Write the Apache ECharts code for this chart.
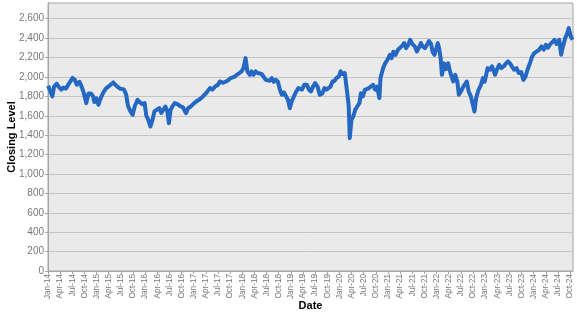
<!DOCTYPE html>
<html>
<head>
<meta charset="utf-8">
<script src="https://cdn.jsdelivr.net/npm/echarts@6/dist/echarts.min.js"></script>
<style>html,body{margin:0;padding:0;background:#fff}#c{width:577px;height:315px}</style>
</head>
<body>
<div id="c"></div>
<script>
var monthNames = ['Jan','Feb','Mar','Apr','May','Jun','Jul','Aug','Sep','Oct','Nov','Dec'];
var dates = [
'2014-01-02','2014-01-15','2014-02-03','2014-02-15','2014-03-05','2014-03-20','2014-04-10','2014-04-25','2014-05-15','2014-06-01','2014-06-20','2014-07-03','2014-07-20','2014-08-05','2014-08-25','2014-09-10','2014-09-25','2014-10-10','2014-10-15','2014-11-01','2014-11-20','2014-12-05','2014-12-15','2014-12-31',
'2015-01-15','2015-02-01','2015-02-20','2015-03-10','2015-03-25','2015-04-15','2015-05-05','2015-05-20','2015-06-05','2015-06-25','2015-07-10','2015-07-25','2015-08-10','2015-08-25','2015-09-10','2015-09-28','2015-10-15','2015-11-05','2015-11-20','2015-12-10','2015-12-28',
'2016-01-10','2016-01-25','2016-02-10','2016-02-25','2016-03-10','2016-03-25','2016-04-15','2016-05-01','2016-05-15','2016-06-01','2016-06-15','2016-06-27','2016-07-10','2016-07-25','2016-08-10','2016-09-01','2016-09-20','2016-10-10','2016-10-25','2016-11-04','2016-11-20','2016-12-10','2016-12-28',
'2017-01-20','2017-02-15','2017-03-10','2017-04-01','2017-05-01','2017-05-20','2017-06-10','2017-07-01','2017-07-15','2017-08-10','2017-09-01','2017-09-20','2017-10-05','2017-11-01','2017-11-20','2017-12-10','2017-12-28',
'2018-01-10','2018-01-26','2018-02-08','2018-02-25','2018-03-10','2018-03-25','2018-04-10','2018-04-25','2018-05-10','2018-05-25','2018-06-10','2018-06-25','2018-07-10','2018-07-25','2018-08-10','2018-08-25','2018-09-10','2018-09-25','2018-10-10','2018-10-25','2018-11-10','2018-11-25','2018-12-10','2018-12-24',
'2019-01-10','2019-01-25','2019-02-10','2019-02-25','2019-03-10','2019-03-25','2019-04-10','2019-04-30','2019-05-15','2019-05-31','2019-06-15','2019-07-01','2019-07-20','2019-08-05','2019-08-25','2019-09-10','2019-09-25','2019-10-05','2019-10-25','2019-11-10','2019-11-25','2019-12-10','2019-12-28',
'2020-01-10','2020-01-25','2020-02-10','2020-02-20','2020-02-28','2020-03-10','2020-03-18','2020-03-31','2020-04-15','2020-04-28','2020-05-15','2020-05-30','2020-06-10','2020-06-25','2020-07-10','2020-07-25','2020-08-10','2020-08-25','2020-09-10','2020-09-25','2020-10-10','2020-10-28','2020-11-05','2020-11-25','2020-12-10','2020-12-28',
'2021-01-15','2021-01-28','2021-02-10','2021-02-25','2021-03-15','2021-03-30','2021-04-15','2021-05-01','2021-05-15','2021-06-01','2021-06-15','2021-07-01','2021-07-20','2021-08-05','2021-08-20','2021-09-05','2021-09-20','2021-10-05','2021-10-20','2021-11-05','2021-11-20','2021-12-01','2021-12-15','2021-12-31',
'2022-01-10','2022-01-20','2022-02-01','2022-02-10','2022-02-25','2022-03-10','2022-03-28','2022-04-10','2022-04-25','2022-05-05','2022-05-20','2022-06-05','2022-06-16','2022-07-01','2022-07-20','2022-08-15','2022-08-30','2022-09-15','2022-09-30','2022-10-12','2022-10-25','2022-11-10','2022-11-30','2022-12-15','2022-12-28',
'2023-01-20','2023-02-05','2023-02-20','2023-03-15','2023-03-30','2023-04-15','2023-05-01','2023-05-20','2023-06-05','2023-06-20','2023-07-05','2023-07-20','2023-08-05','2023-08-25','2023-09-10','2023-09-28','2023-10-15','2023-10-30','2023-11-15','2023-12-05','2023-12-20',
'2024-01-05','2024-01-20','2024-02-10','2024-02-28','2024-03-15','2024-04-01','2024-04-15','2024-05-01','2024-05-20','2024-06-05','2024-06-20','2024-07-10','2024-07-25','2024-08-05','2024-08-25','2024-09-10','2024-09-20','2024-10-05','2024-10-20'
];
var closing = [
1910,1930,1800,1900,1930,1900,1870,1890,1880,1920,1960,1990,1970,1920,1950,1900,1840,1760,1730,1830,1830,1800,1740,1780,
1713,1780,1840,1880,1870,1920,1943,1920,1900,1880,1860,1870,1820,1700,1650,1610,1700,1764,1740,1720,1730,
1600,1558,1489,1560,1644,1660,1678,1630,1610,1695,1650,1524,1661,1700,1730,1720,1700,1690,1650,1627,1680,1696,1720,
1747,1770,1799,1830,1885,1870,1902,1920,1953,1940,1953,1970,1988,2000,2022,2040,2060,
2091,2194,2057,2022,2057,2022,2057,2040,2057,2030,2000,1970,1988,1960,1988,1950,1970,1950,1867,1816,1840,1800,1765,1678,
1760,1799,1850,1885,1900,1870,1919,1919,1870,1850,1900,1936,1900,1816,1830,1885,1870,1850,1900,1953,1960,1990,2005,
2057,2030,2040,2022,1833,1700,1369,1558,1600,1661,1700,1730,1833,1800,1867,1850,1885,1900,1919,1870,1900,1782,1988,2091,2140,2177,
2228,2194,2260,2228,2280,2297,2320,2349,2297,2330,2383,2340,2314,2263,2300,2349,2310,2297,2330,2370,2340,2260,2228,2300,
2349,2297,2194,2022,2140,2080,2140,2057,1990,1953,2022,1950,1816,1850,1900,1953,1850,1800,1713,1644,1782,1860,1919,1988,1950,
2091,2074,2110,2022,2080,2125,2091,2110,2140,2160,2140,2130,2074,2090,2040,2050,1970,2000,2074,2150,2211,
2245,2230,2280,2314,2280,2332,2300,2332,2360,2383,2340,2383,2228,2300,2400,2450,2504,2420,2383
];
var yTicks = [0,200,400,600,800,1000,1200,1400,1600,1800,2000,2200,2400,2600];

function monthIndex(s) {
  var p = s.split('-').map(Number);
  var dim = new Date(p[0], p[1], 0).getDate();
  return (p[0] - 2014) * 12 + (p[1] - 1) + (p[2] - 1) / dim;
}
var seriesData = dates.map(function (d, i) { return [monthIndex(d), closing[i]]; });

var chart = echarts.init(document.getElementById('c'), null, {renderer: 'canvas'});
chart.setOption({
  animation: false,
  backgroundColor: '#ffffff',
  grid: {left: 48, right: 4, top: 3, bottom: 44, outerBoundsMode: 'none', containLabel: false, show: true, backgroundColor: '#eaeaea', borderColor: '#a6a6a6', borderWidth: 1},
  xAxis: {
    type: 'value', min: 0, max: 129.7, interval: 3,
    name: 'Date', nameLocation: 'middle', nameGap: 29, nameMoveOverlap: false,
    nameTextStyle: {fontFamily: 'Liberation Sans', fontWeight: 'bold', fontSize: 11, color: '#000'},
    axisLine: {show: true, lineStyle: {color: '#a6a6a6'}},
    axisTick: {show: true, length: 3, lineStyle: {color: '#a6a6a6'}},
    splitLine: {show: false},
    axisLabel: {
      rotate: 90, fontFamily: 'Liberation Sans', fontSize: 8.2, color: '#777', margin: 3,
      showMaxLabel: false,
      formatter: function (v) {
        if (Math.abs(v - Math.round(v)) > 1e-6 || Math.round(v) % 3 !== 0) return '';
        var m = Math.round(v);
        return monthNames[m % 12] + '-' + String(14 + Math.floor(m / 12));
      }
    }
  },
  yAxis: {
    type: 'value', min: 0, max: 2762, interval: 200,
    name: 'Closing Level', nameLocation: 'middle', nameGap: 31, nameMoveOverlap: false,
    nameTextStyle: {fontFamily: 'Liberation Sans', fontWeight: 'bold', fontSize: 11, color: '#000'},
    axisLine: {show: true, lineStyle: {color: '#a6a6a6'}},
    axisTick: {show: true, length: 3, lineStyle: {color: '#a6a6a6'}},
    splitLine: {show: true, lineStyle: {color: '#c4c4c4', width: 1}},
    axisLabel: {
      fontFamily: 'Liberation Sans', fontSize: 10, color: '#777', margin: 4,
      showMaxLabel: false,
      formatter: function (v) {
        if (yTicks.indexOf(v) < 0) return '';
        return v.toLocaleString('en-US');
      }
    }
  },
  series: [{
    type: 'line', data: seriesData, showSymbol: false, symbol: 'none',
    lineStyle: {color: '#2468c4', width: 4, join: 'round'}
  }]
});
</script>
</body>
</html>
